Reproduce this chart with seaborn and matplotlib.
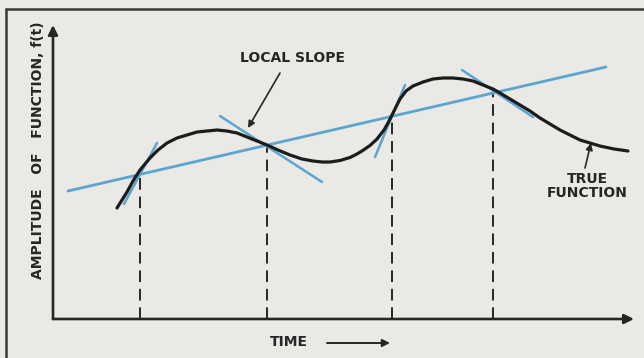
import numpy as np
import pandas as pd
import matplotlib.pyplot as plt
import seaborn as sns
from matplotlib.lines import Line2D

# 1. Values (arbitrary units: time 0-581, amplitude 0-294)
curve_t = [64, 69, 74, 80, 87, 92, 97, 105, 114, 124, 134, 144, 154, 164,
           174, 184, 194, 204, 214, 225, 237, 249, 260, 269, 277, 287, 297,
           303, 309, 317, 324, 331, 335, 339, 343, 347, 353, 360, 370, 380,
           390, 400, 410, 420, 430, 440, 447, 457, 467, 477, 487, 497, 507,
           517, 527, 537, 547, 561, 575]
curve_a = [111, 119, 127, 138, 149, 155, 161, 169, 176, 181, 184, 187, 188,
           189, 188, 186, 182, 178, 174, 169, 164, 160, 158, 157, 157, 158.5,
           161.5, 164.5, 168, 173.5, 180, 189, 196, 204, 212, 220, 228, 233,
           237, 240, 241, 241, 240, 238, 234, 230, 226, 220, 214, 208, 201,
           195, 189, 184, 179, 176, 173, 170, 168]

trend_t = [15, 553]
trend_a = [128, 252]

sample_t = [87, 214, 339, 440]
sample_a = [149, 174, 204, 230]

# local slope segments
tangent_t0 = [71, 167, 322, 409]
tangent_a0 = [115, 203, 162, 249]
tangent_t1 = [104, 269, 352, 480]
tangent_a1 = [176, 137, 234, 202]

ylabel = "AMPLITUDE   OF   FUNCTION, f(t)"
xlabel = "TIME"
slope_label = "LOCAL SLOPE"
true_label = "TRUE\nFUNCTION"

# 2. Style
paper = "#eae9e5"
ink = "#262626"
blue = "#5ba6d0"

sns.set_style("white", rc={"figure.facecolor": paper, "axes.facecolor": paper})
plt.rcParams["font.family"] = ["DejaVu Sans"]

fig = plt.figure(figsize=(6.44, 3.58), dpi=100)
ax = fig.add_axes([53 / 644, 39 / 358, 581 / 644, 294 / 358])
ax.set_xlim(0, 581)
ax.set_ylim(0, 294)
ax.patch.set_alpha(0)
for s in ax.spines.values():
    s.set_visible(False)
ax.set_xticks([])
ax.set_yticks([])

# 3. Marks
curve = pd.DataFrame({"t": curve_t, "a": curve_a})
sns.lineplot(data=curve, x="t", y="a", sort=False, estimator=None, ax=ax,
             color="#1c1c1c", lw=2.3, solid_capstyle="round",
             solid_joinstyle="round", zorder=4)

sns.lineplot(x=trend_t, y=trend_a, sort=False, estimator=None, ax=ax,
             color=blue, lw=2.0, zorder=3)

for t0, a0, t1, a1 in zip(tangent_t0, tangent_a0, tangent_t1, tangent_a1):
    sns.lineplot(x=[t0, t1], y=[a0, a1], sort=False, estimator=None, ax=ax,
                 color=blue, lw=1.8, zorder=3)

for t, a in zip(sample_t, sample_a):
    ax.plot([t, t], [0, a], color=ink, lw=1.4, dashes=(6, 3.5), zorder=2)

# axes with arrow heads
arrow = dict(arrowstyle="-|>", color=ink, lw=1.9, mutation_scale=14,
             shrinkA=0, shrinkB=0)
ax.annotate("", xy=(1, 0), xytext=(0, 0), xycoords="axes fraction",
            arrowprops=arrow, annotation_clip=False)
ax.annotate("", xy=(0, 1), xytext=(0, 0), xycoords="axes fraction",
            arrowprops=arrow, annotation_clip=False)

# 4. Text
txt = dict(color=ink, fontsize=10, fontweight="bold")
small_arrow = dict(arrowstyle="-|>", color=ink, lw=1.2, mutation_scale=10,
                   shrinkA=0, shrinkB=0)

ax.text(240, 261, slope_label, ha="center", va="center", **txt)
ax.annotate("", xy=(195, 191), xytext=(227, 246), arrowprops=small_arrow)

ax.text(534, 133, true_label, ha="center", va="center",
        linespacing=1.05, **txt)
ax.annotate("", xy=(538, 176), xytext=(532, 151), arrowprops=small_arrow)

ax.text(236, -23, xlabel, ha="center", va="center", clip_on=False, **txt)
ax.annotate("", xy=(337, -24), xytext=(274, -24),
            arrowprops=dict(small_arrow, lw=1.4, mutation_scale=11),
            annotation_clip=False)

ax.text(-15, 169, ylabel, ha="center", va="center", rotation=90,
        clip_on=False, **txt)

# 5. Frame of the figure (top and left rules)
fig.add_artist(Line2D([6 / 644, 1], [1 - 9 / 358, 1 - 9 / 358],
                      transform=fig.transFigure, color="#3a3a3a", lw=1.8))
fig.add_artist(Line2D([6 / 644, 6 / 644], [0, 1 - 9 / 358],
                      transform=fig.transFigure, color="#3a3a3a", lw=1.8))

fig.savefig("out.png", dpi=100, facecolor=paper)
plt.close(fig)
